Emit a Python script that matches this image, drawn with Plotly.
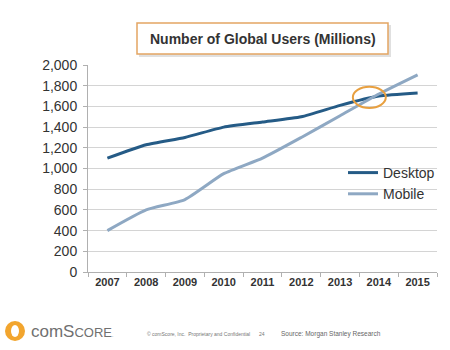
import plotly.graph_objects as go

years = ["2007", "2008", "2009", "2010", "2011", "2012", "2013", "2014", "2015"]
desktop = [1100, 1230, 1300, 1400, 1450, 1500, 1610, 1700, 1730]
mobile = [400, 600, 700, 950, 1100, 1300, 1510, 1720, 1905]
y_ticks = [0, 200, 400, 600, 800, 1000, 1200, 1400, 1600, 1800, 2000]

L, R, T, B = 88, 13, 65, 78
W, H = 450, 350
PW, PH = W - L - R, H - T - B

def px(x):
    return (x - L) / PW

def py(y):
    return (H - B - y) / PH

fig = go.Figure()
fig.add_trace(go.Scatter(x=years, y=desktop, name="Desktop", mode="lines",
                         line=dict(color="#255b86", width=3, shape="spline", smoothing=0.5)))
fig.add_trace(go.Scatter(x=years, y=mobile, name="Mobile", mode="lines",
                         line=dict(color="#8ea8c3", width=3, shape="spline", smoothing=0.5)))

shapes = []
# title box shadow
shapes.append(dict(type="rect", xref="paper", yref="paper",
                   x0=px(139), x1=px(391), y0=py(25), y1=py(57),
                   fillcolor="rgba(0,0,0,0.12)", line=dict(width=0)))
# title box
shapes.append(dict(type="rect", xref="paper", yref="paper",
                   x0=px(137), x1=px(388), y0=py(23), y1=py(54),
                   fillcolor="white", line=dict(color="#e3a563", width=1.5)))
# orange highlight ellipse
shapes.append(dict(type="circle", xref="x", yref="y",
                   x0=6.33, x1=7.18, y0=1585, y1=1790,
                   line=dict(color="#e8a040", width=2)))
# comScore logo
shapes.append(dict(type="circle", xref="paper", yref="paper",
                   x0=px(5), x1=px(25), y0=py(341), y1=py(321),
                   fillcolor="#f2a52e", line=dict(width=0)))
shapes.append(dict(type="path", xref="paper", yref="paper",
                   path=f"M {px(15)} {py(321)} A 1 1 0 0 1 {px(15)} {py(341)} Z",
                   fillcolor="#3b7dbf", line=dict(width=0)))
shapes.append(dict(type="circle", xref="paper", yref="paper",
                   x0=px(11), x1=px(19), y0=py(337), y1=py(325),
                   fillcolor="white", line=dict(width=0)))

annotations = [
    dict(text="<b>Number of Global Users (Millions)</b>", xref="paper", yref="paper",
         x=px(262.5), y=py(39), xanchor="center", yanchor="middle", showarrow=False,
         font=dict(family="Liberation Sans, Arial", size=14, color="#333333")),
    dict(text="comS<span style='font-size:13px'>CORE</span><span style='font-size:5px'>.</span>",
         xref="paper", yref="paper", x=px(29), y=py(331), xanchor="left", yanchor="middle",
         showarrow=False, font=dict(family="Liberation Sans, Arial", size=17, color="#707070")),
    dict(text="© comScore, Inc.  Proprietary and Confidential", xref="paper", yref="paper",
         x=px(145), y=py(334), xanchor="left", yanchor="middle", showarrow=False,
         font=dict(family="Liberation Sans, Arial", size=5, color="#777777")),
    dict(text="24", xref="paper", yref="paper",
         x=px(257), y=py(334), xanchor="left", yanchor="middle", showarrow=False,
         font=dict(family="Liberation Sans, Arial", size=5, color="#777777")),
    dict(text="Source: Morgan Stanley Research", xref="paper", yref="paper",
         x=px(279), y=py(334), xanchor="left", yanchor="middle", showarrow=False,
         font=dict(family="Liberation Sans, Arial", size=6.5, color="#666666")),
]

fig.update_layout(
    width=W, height=H,
    margin=dict(l=L, r=R, t=T, b=B, autoexpand=False),
    paper_bgcolor="white", plot_bgcolor="white",
    font=dict(family="Liberation Sans, Arial", color="#333333"),
    shapes=shapes, annotations=annotations,
    legend=dict(x=px(343), y=py(157), xanchor="left", yanchor="top",
                font=dict(size=14, color="#333333"), itemwidth=30,
                bgcolor="rgba(0,0,0,0)", tracegroupgap=0),
)
fig.update_xaxes(type="category", range=[-0.5, 8.5], tickson="boundaries", ticks="outside", ticklen=4,
                 tickcolor="#b0b0b0", showline=True, linecolor="#b0b0b0",
                 showgrid=False, tickfont=dict(size=11, color="#333333", family="Liberation Sans, Arial"),
                 tickprefix="<b>", ticksuffix="</b>")
fig.update_yaxes(range=[0, 2000], tickvals=y_ticks, tickformat=",d", showgrid=True,
                 gridcolor="#d4d4d4", gridwidth=1, showline=True, linecolor="#b0b0b0",
                 ticks="outside", ticklen=4, tickcolor="#b0b0b0", zeroline=False,
                 ticklabelstandoff=3,
                 tickfont=dict(size=14, color="#333333"))

fig.write_html("out.html")
